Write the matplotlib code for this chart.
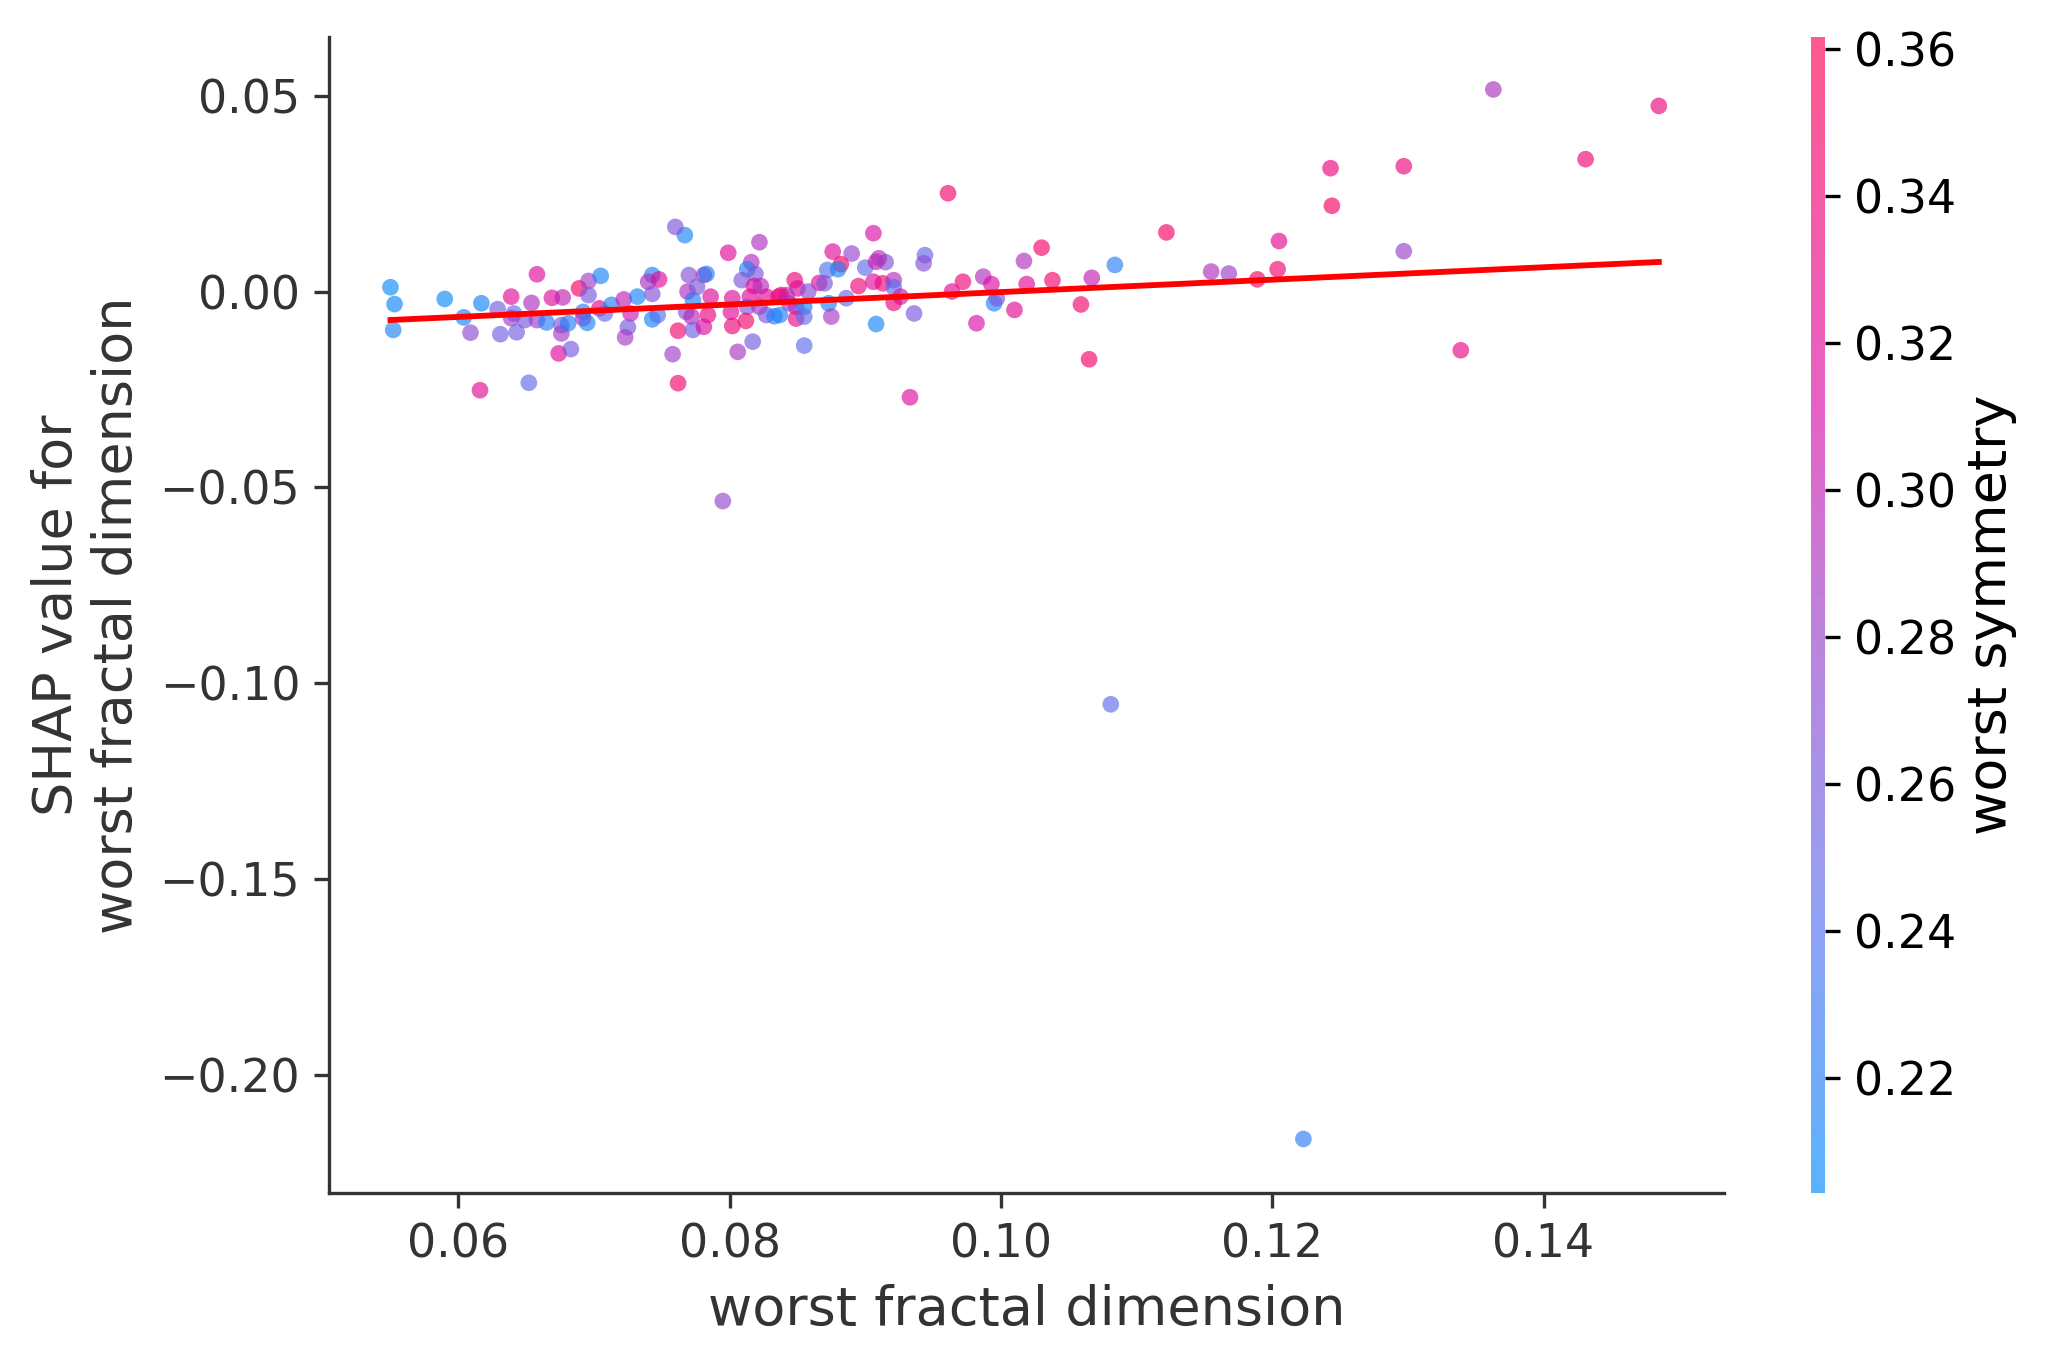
########################################################
# SHAP DEPENDENCE PLOT: worst fractal dimension
########################################################

import numpy as np
import matplotlib
matplotlib.use('Agg')
import matplotlib.pyplot as plt
from matplotlib.colors import LinearSegmentedColormap

# feature values (x), SHAP values (y) and interaction feature (colour)
fractal_dim = [
    0.0550, 0.0553, 0.0552, 0.0590, 0.0604, 0.0609, 0.0617, 0.0616, 0.0629, 0.0631,
    0.0639, 0.0641, 0.0639, 0.0643, 0.0649, 0.0652, 0.0654, 0.0658, 0.0658, 0.0665,
    0.0669, 0.0674, 0.0677, 0.0676, 0.0676, 0.0681, 0.0683, 0.0689, 0.0696, 0.0696,
    0.0692, 0.0692, 0.0695, 0.0705, 0.0704, 0.0708, 0.0713, 0.0722, 0.0727, 0.0725,
    0.0723, 0.0732, 0.0743, 0.0740, 0.0748, 0.0743, 0.0743, 0.0747, 0.0762, 0.0758,
    0.0762, 0.0767, 0.0760, 0.0770, 0.0781, 0.0769, 0.0773, 0.0776, 0.0786, 0.0768,
    0.0772, 0.0784, 0.0773, 0.0781, 0.0802, 0.0799, 0.0802, 0.0801, 0.0806, 0.0822,
    0.0816, 0.0813, 0.0819, 0.0809, 0.0818, 0.0823, 0.0815, 0.0827, 0.0836, 0.0813,
    0.0822, 0.0827, 0.0833, 0.0812, 0.0817, 0.0961, 0.0906, 0.0876, 0.0890, 0.0882,
    0.0872, 0.0880, 0.0900, 0.0908, 0.0915, 0.0910, 0.0944, 0.0943, 0.0866, 0.0870,
    0.0848, 0.0850, 0.0858, 0.0842, 0.0838, 0.0844, 0.0849, 0.0855, 0.0837, 0.0849,
    0.0855, 0.0855, 0.0873, 0.0875, 0.0886, 0.0895, 0.0906, 0.0913, 0.0921, 0.0921,
    0.0926, 0.0921, 0.0908, 0.0936, 0.0933, 0.0964, 0.0972, 0.0987, 0.0993, 0.0995,
    0.0997, 0.0982, 0.1017, 0.1030, 0.1019, 0.1038, 0.1010, 0.1059, 0.1065, 0.1067,
    0.1084, 0.1122, 0.1155, 0.1168, 0.1189, 0.1204, 0.1205, 0.1244, 0.1297, 0.1339,
    0.1363, 0.1243, 0.1297, 0.1485, 0.1431, 0.0795, 0.1081, 0.1223, 0.0783,
]
shap_values = [
    0.0011, -0.0032, -0.0098, -0.0019, -0.0066, -0.0105, -0.0030, -0.0252, -0.0045, -0.0109,
    -0.0013, -0.0056, -0.0068, -0.0104, -0.0073, -0.0233, -0.0029, 0.0044, -0.0073, -0.0079,
    -0.0016, -0.0158, -0.0015, -0.0086, -0.0107, -0.0081, -0.0147, 0.0008, 0.0027, -0.0009,
    -0.0052, -0.0068, -0.0080, 0.0040, -0.0043, -0.0056, -0.0034, -0.0020, -0.0056, -0.0091,
    -0.0117, -0.0013, 0.0042, 0.0025, 0.0031, -0.0006, -0.0071, -0.0060, -0.0100, -0.0160,
    -0.0234, 0.0144, 0.0165, 0.0042, 0.0042, -0.0000, -0.0022, 0.0012, -0.0013, -0.0052,
    -0.0064, -0.0060, -0.0098, -0.0090, -0.0088, 0.0099, -0.0017, -0.0052, -0.0154, 0.0126,
    0.0075, 0.0057, 0.0045, 0.0029, 0.0014, 0.0014, -0.0013, -0.0013, -0.0013, -0.0039,
    -0.0039, -0.0060, -0.0063, -0.0075, -0.0128, 0.0251, 0.0149, 0.0102, 0.0097, 0.0070,
    0.0055, 0.0057, 0.0061, 0.0076, 0.0075, 0.0085, 0.0093, 0.0072, 0.0022, 0.0021,
    0.0029, 0.0008, -0.0000, -0.0009, -0.0009, -0.0030, -0.0039, -0.0039, -0.0060, -0.0069,
    -0.0064, -0.0138, -0.0030, -0.0064, -0.0017, 0.0014, 0.0025, 0.0021, 0.0029, 0.0011,
    -0.0013, -0.0029, -0.0083, -0.0056, -0.0270, -0.0000, 0.0025, 0.0038, 0.0019, -0.0030,
    -0.0017, -0.0081, 0.0078, 0.0112, 0.0019, 0.0029, -0.0047, -0.0033, -0.0173, 0.0035,
    0.0068, 0.0151, 0.0051, 0.0046, 0.0031, 0.0057, 0.0129, 0.0219, 0.0103, -0.0150,
    0.0516, 0.0315, 0.0320, 0.0474, 0.0338, -0.0535, -0.1054, -0.2164, 0.0045,
]
worst_symmetry = [
    0.210, 0.212, 0.218, 0.210, 0.215, 0.272, 0.212, 0.325, 0.258, 0.255,
    0.318, 0.245, 0.285, 0.258, 0.262, 0.250, 0.290, 0.318, 0.280, 0.222,
    0.315, 0.320, 0.300, 0.262, 0.285, 0.220, 0.258, 0.350, 0.285, 0.262,
    0.225, 0.292, 0.218, 0.215, 0.325, 0.245, 0.220, 0.300, 0.305, 0.260,
    0.285, 0.215, 0.220, 0.290, 0.318, 0.268, 0.215, 0.240, 0.345, 0.282,
    0.345, 0.215, 0.265, 0.268, 0.290, 0.290, 0.220, 0.262, 0.320, 0.265,
    0.295, 0.335, 0.255, 0.315, 0.340, 0.320, 0.318, 0.320, 0.288, 0.290,
    0.292, 0.222, 0.262, 0.265, 0.320, 0.295, 0.322, 0.318, 0.338, 0.262,
    0.290, 0.262, 0.218, 0.345, 0.258, 0.345, 0.312, 0.318, 0.278, 0.350,
    0.240, 0.218, 0.245, 0.305, 0.268, 0.292, 0.250, 0.270, 0.322, 0.265,
    0.340, 0.318, 0.270, 0.290, 0.338, 0.292, 0.288, 0.215, 0.218, 0.328,
    0.245, 0.245, 0.215, 0.285, 0.245, 0.340, 0.318, 0.338, 0.292, 0.242,
    0.305, 0.340, 0.215, 0.262, 0.318, 0.322, 0.338, 0.292, 0.315, 0.218,
    0.262, 0.310, 0.292, 0.348, 0.325, 0.345, 0.322, 0.345, 0.348, 0.302,
    0.222, 0.350, 0.292, 0.282, 0.348, 0.345, 0.325, 0.350, 0.280, 0.332,
    0.290, 0.335, 0.335, 0.335, 0.345, 0.278, 0.245, 0.225, 0.220,
]

# colour range of the interaction feature
symmetry_min, symmetry_max = 0.2043, 0.3616

# red trend line
trend_slope = 0.1585
trend_intercept = -0.01599

# shap-like red/blue colour map
red_blue = LinearSegmentedColormap.from_list(
    'red_blue',
    [(0.0, (0.0, 0.545, 0.984)),
     (0.25, (0.36, 0.43, 0.93)),
     (0.5, (0.62, 0.24, 0.78)),
     (0.68, (0.85, 0.05, 0.66)),
     (1.0, (1.0, 0.0, 0.318))]
)

text_grey = '#333333'

fig = plt.figure(figsize=(6.85, 4.55), dpi=300)
ax = fig.add_axes([0.1603, 0.126, 0.6786, 0.8469])
cax = fig.add_axes([0.8813, 0.126, 0.0068, 0.8469])

sc = ax.scatter(
    fractal_dim, shap_values, c=worst_symmetry, cmap=red_blue,
    vmin=symmetry_min, vmax=symmetry_max, s=16, linewidth=0, alpha=0.65,
    rasterized=True
)

# trend line over the range of the data
x_line = np.array([min(fractal_dim), max(fractal_dim)])
ax.plot(x_line, trend_intercept + trend_slope * x_line, color='red', linewidth=1.4)

ax.set_xlim(0.0505, 0.1533)
ax.set_ylim(-0.2302, 0.065)
ax.set_xticks([0.06, 0.08, 0.10, 0.12, 0.14])
ax.set_yticks([0.05, 0.0, -0.05, -0.10, -0.15, -0.20])
ax.set_xticklabels(['0.06', '0.08', '0.10', '0.12', '0.14'])
ax.set_yticklabels(['0.05', '0.00', '\u22120.05', '\u22120.10', '\u22120.15', '\u22120.20'])

ax.set_xlabel('worst fractal dimension', fontsize=13, color=text_grey)
ax.set_ylabel('SHAP value for\nworst fractal dimension', fontsize=13, color=text_grey)
ax.tick_params(labelsize=11, labelcolor=text_grey, color=text_grey)
ax.spines['right'].set_visible(False)
ax.spines['top'].set_visible(False)
ax.spines['left'].set_color(text_grey)
ax.spines['bottom'].set_color(text_grey)

# colour bar
cb = fig.colorbar(sc, cax=cax, ticks=[0.22, 0.24, 0.26, 0.28, 0.30, 0.32, 0.34, 0.36])
cb.outline.set_visible(False)
cb.ax.tick_params(labelsize=11)
cb.set_label('worst symmetry', fontsize=13, labelpad=2)

fig.savefig('out.png', dpi=300)
